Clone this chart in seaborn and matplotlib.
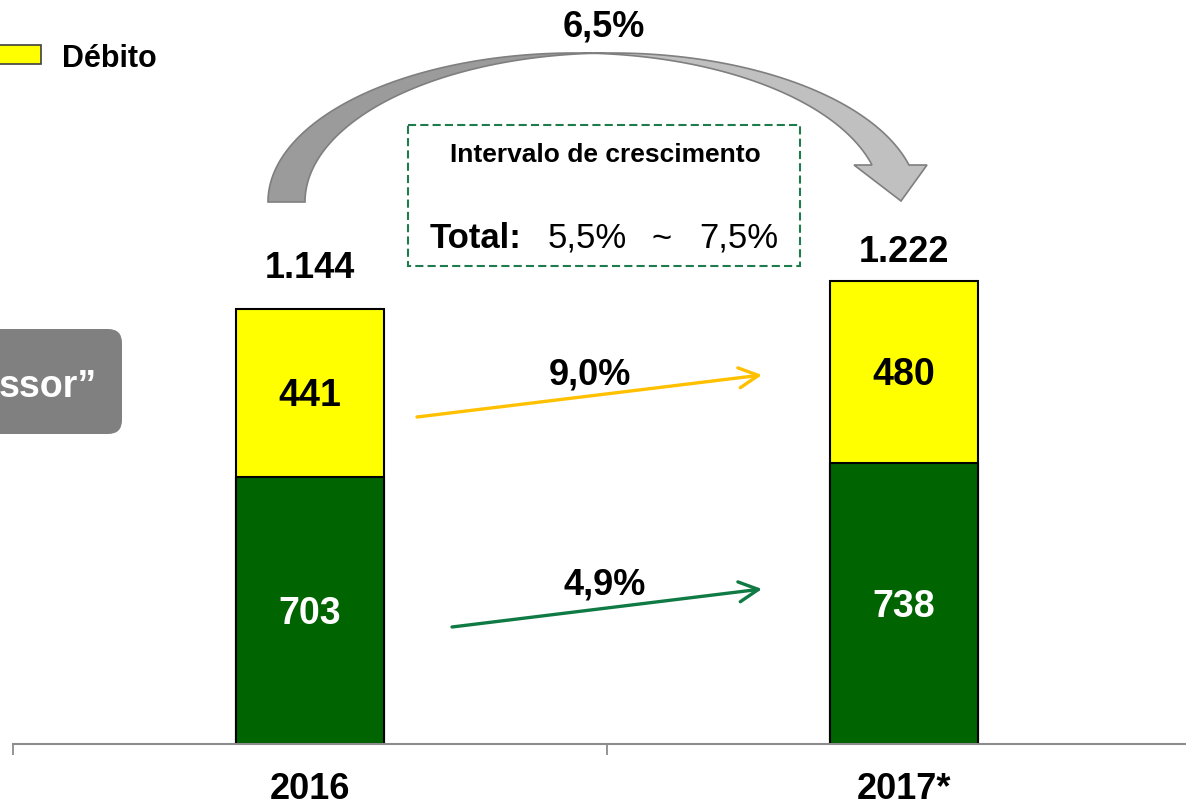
import numpy as np
import pandas as pd
import matplotlib
matplotlib.use("Agg")
import matplotlib.pyplot as plt
from matplotlib.patches import Polygon, Rectangle, FancyBboxPatch
import seaborn as sns

# ---- data -------------------------------------------------------------
anos = ["2016", "2017*"]
credito = [703, 738]          # lower segment (green)
debito = [441, 480]           # upper segment (yellow)
total_rotulo = [1144, 1222]   # totals printed above the bars
cresc_debito = 9.0            # % growth, débito
cresc_credito = 4.9           # % growth, crédito
cresc_total = 6.5             # % growth, total
faixa_total = (5.5, 7.5)      # expected growth interval, total

# ---- style ------------------------------------------------------------
sns.set_style("white")
plt.rcParams["font.family"] = ["Liberation Sans", "DejaVu Sans"]

AMARELO = "#FFFF00"
VERDE = "#006400"
LARANJA = "#FFC000"
VERDE_SETA = "#107A45"
CINZA_EIXO = "#8C8C8C"

W, H = 1186, 806
fig = plt.figure(figsize=(W / 100, H / 100), dpi=100)

# main axes: baseline at y=744 px, categories 594 px apart
ax = fig.add_axes([13 / W, 62 / H, (W - 13) / W, 744 / H])

df = pd.DataFrame({"ano": anos, "credito": credito, "debito": debito})
df["total"] = df["credito"] + df["debito"]

sns.barplot(data=df, x="ano", y="total", color=AMARELO, saturation=1,
            edgecolor="black", linewidth=1.5, width=0.25, errorbar=None, ax=ax)
sns.barplot(data=df, x="ano", y="credito", color=VERDE, saturation=1,
            edgecolor="black", linewidth=1.5, width=0.25, errorbar=None, ax=ax)

ax.set_xlabel("")
ax.set_ylabel("")
ax.set_yticks([])
for s in ("top", "right", "left"):
    ax.spines[s].set_visible(False)
ax.spines["bottom"].set_color(CINZA_EIXO)
ax.spines["bottom"].set_linewidth(1.5)
ax.set_xticks([-0.5, 0.5], minor=True)
ax.tick_params(axis="x", which="minor", bottom=True, length=8, width=1.3,
               color=CINZA_EIXO, direction="out")
ax.tick_params(axis="x", which="major", bottom=True, length=0, pad=20)
for lab in ax.get_xticklabels():
    lab.set_fontsize(26)
    lab.set_fontweight("bold")
    lab.set_color("black")
ax.set_facecolor("none")
ax.set_xlim(-0.5, -0.5 + (W - 13) / 594)
ax.set_ylim(0, 744 / 0.3802)

def fmt_milhar(v):
    return f"{v:,}".replace(",", ".")

def fmt_pct(v):
    return f"{v:.1f}%".replace(".", ",")

# values inside the segments
for i in range(len(anos)):
    ax.annotate(str(credito[i]), xy=(i, credito[i] / 2), xytext=(0, -9.5),
                textcoords="offset points", ha="center", va="baseline",
                fontsize=27, fontweight="bold", color="white")
    ax.annotate(str(debito[i]), xy=(i, credito[i] + debito[i] / 2),
                xytext=(0, -9.5), textcoords="offset points", ha="center",
                va="baseline", fontsize=27, fontweight="bold", color="black")

# totals above the bars
desloc_total = [22.7, 12.2]
for i, v in enumerate(total_rotulo):
    ax.annotate(fmt_milhar(v), xy=(i, v), xytext=(0, desloc_total[i]),
                textcoords="offset points", ha="center", va="baseline",
                fontsize=26, fontweight="bold", color="black")

# ---- overlay in pixel units for the annotations ------------------------
ov = fig.add_axes([0, 0, 1, 1])
ov.set_xlim(0, W)
ov.set_ylim(H, 0)
ov.axis("off")
ov.patch.set_visible(False)

# curved block arrow: two equal ellipses shifted horizontally by the shaft width
cx, cy, a, b, t = 574.8, 202.0, 306.8, 149.0, 37.0
th1 = np.arccos(t / (2 * a))          # where the two ellipses cross (top)
th2 = np.pi - th1
th_end = np.arcsin((cy - 165.0) / b)  # shaft end, base of the head

def arc(x0, t0, t1, n=120):
    tt = np.linspace(t0, t1, n)
    return np.column_stack([x0 + a * np.cos(tt), cy - b * np.sin(tt)])

back = np.vstack([arc(cx, np.pi, th1), arc(cx + t, th2, np.pi)])
ov.add_patch(Polygon(back, closed=True, facecolor="#9B9B9B",
                     edgecolor="#7F7F7F", linewidth=1.2, zorder=2))

outer = arc(cx + t, th2, th_end)
inner = arc(cx, th_end, th1)
head = np.array([[927.0, 165.0], [901.0, 201.0], [854.0, 165.0]])
front = np.vstack([outer, head, inner])
ov.add_patch(Polygon(front, closed=True, facecolor="#C0C0C0",
                     edgecolor="#7F7F7F", linewidth=1.2, zorder=3))

ov.text(604, 36, fmt_pct(cresc_total), ha="center", va="baseline",
        fontsize=26, fontweight="bold", color="black")

# dashed interval box
ov.add_patch(Rectangle((408, 125), 392, 141, fill=False, edgecolor="#1E7B4B",
                       linewidth=1.5, linestyle=(0, (3.9, 2.0)), zorder=3))
ov.text(605, 162, "Intervalo de crescimento", ha="center", va="baseline",
        fontsize=19, fontweight="bold", color="black")
ov.text(430, 248, "Total:", ha="left", va="baseline", fontsize=25,
        fontweight="bold", color="black")
ov.text(548, 248, fmt_pct(faixa_total[0]), ha="left", va="baseline",
        fontsize=25, color="black")
ov.text(662, 249, "~", ha="center", va="baseline", fontsize=25, color="black")
ov.text(778, 248, fmt_pct(faixa_total[1]), ha="right", va="baseline",
        fontsize=25, color="black")

# growth arrows between the segments
ov.annotate("", xy=(762, 375), xytext=(417, 417),
            arrowprops=dict(arrowstyle="->,head_length=0.7,head_width=0.36",
                            color=LARANJA, lw=2.4, mutation_scale=20,
                            shrinkA=0, shrinkB=0))
ov.text(590, 384, fmt_pct(cresc_debito), ha="center", va="baseline",
        fontsize=26, fontweight="bold", color="black")
ov.annotate("", xy=(762, 589), xytext=(452, 627),
            arrowprops=dict(arrowstyle="->,head_length=0.7,head_width=0.36",
                            color=VERDE_SETA, lw=2.4, mutation_scale=20,
                            shrinkA=0, shrinkB=0))
ov.text(605, 595, fmt_pct(cresc_credito), ha="center", va="baseline",
        fontsize=26, fontweight="bold", color="black")

# legend entry
ov.add_patch(Rectangle((-20, 45), 61, 19, facecolor=AMARELO,
                       edgecolor="#404040", linewidth=1.2, zorder=3))
ov.text(62, 67, "Débito", ha="left", va="baseline", fontsize=22,
        fontweight="bold", color="black")

# grey side tag
ov.add_patch(FancyBboxPatch((-40, 329), 162, 105,
                            boxstyle="round,pad=0,rounding_size=14",
                            facecolor="#808080", edgecolor="none", zorder=2))
ov.text(-1, 397, "ssor”", ha="left", va="baseline", fontsize=27,
        fontweight="bold", color="white", zorder=4)

fig.savefig("out.png", dpi=100)
